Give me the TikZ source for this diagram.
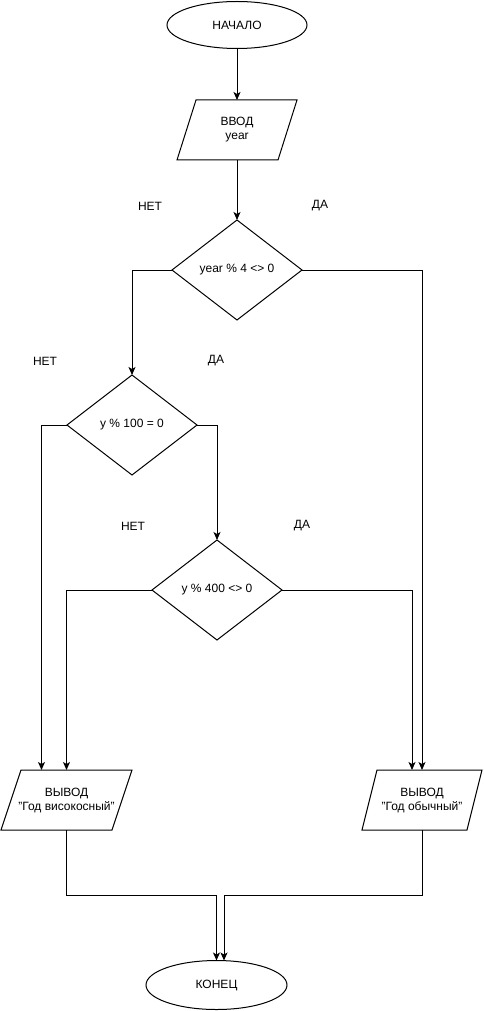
\documentclass[tikz,border=0pt]{standalone}
\usepackage{fontspec}
\setmainfont{Liberation Sans}
\usetikzlibrary{shapes.geometric,arrows.meta,calc}
\begin{document}
\begin{tikzpicture}[x=1pt,y=-1pt,
  every node/.style={font=\fontsize{12}{14}\selectfont, text=black},
  line/.style={draw=black, line width=1pt},
  arrow/.style={line, -{Stealth[length=8pt,width=7pt,inset=2pt]}},
  term/.style={ellipse, draw=black, line width=1pt, inner sep=0pt, outer sep=0pt},
  decision/.style={diamond, draw=black, line width=1pt, minimum width=130pt, minimum height=100pt, inner sep=0pt, outer sep=0pt},
  iobody/.style={rectangle, draw=none, minimum height=60pt, inner sep=0pt, outer sep=0pt, align=center},
  lbl/.style={inner sep=0pt}
]
\useasboundingbox (0,0) rectangle (483,1011);

% parallelogram drawer: #1 name, #2 total width, #3 slant
\newcommand{\drawpara}[3]{%
  \draw[line] ($(#1.center)+({-#2/2+#3},-30)$) -- ($(#1.center)+({#2/2},-30)$)
    -- ($(#1.center)+({#2/2-#3},30)$) -- ($(#1.center)+({-#2/2},30)$) -- cycle;}

\node[term, minimum width=140pt, minimum height=47pt] (start) at (237,25) {НАЧАЛО};
\node[iobody, minimum width=101pt] (in) at (237,130) {ВВОД\\year};
\drawpara{in}{120}{19}
\node[decision] (d1) at (237,270) {year \% 4 <> 0};
\node[decision] (d2) at (132,425) {y \% 100 = 0};
\node[decision] (d3) at (217,590) {y \% 400 <> 0};
\node[iobody, minimum width=111pt] (out1) at (66.5,800) {ВЫВОД\\"Год високосный"};
\drawpara{out1}{131}{20}
\node[iobody, minimum width=105pt] (out2) at (422,800) {ВЫВОД\\"Год обычный"};
\drawpara{out2}{120}{15}
\node[term, minimum width=141pt, minimum height=49pt] (end) at (216.5,985) {КОНЕЦ};

% labels
\node[lbl] (l1n) at (150,206) {НЕТ};
\node[lbl] (l1y) at (320,206) {ДА};
\node[lbl] (l2n) at (45,361) {НЕТ};
\node[lbl] (l2y) at (216,361) {ДА};
\node[lbl] (l3n) at (133,526) {НЕТ};
\node[lbl] (l3y) at (302,526) {ДА};

% connectors
\draw[arrow] (start.south) -- ($(in.center)+(0,-30)$);
\draw[arrow] ($(in.center)+(0,30)$) -- (d1.north);
\draw[arrow] (d1.west) -| (d2.north);
\draw[arrow] (d1.east) -| ($(out2.center)+(0,-30)$);
\draw[arrow] (d2.west) -| ($(out1.center)+(-25,-30)$);
\draw[arrow] (d2.east) -| (d3.north);
\draw[arrow] (d3.west) -| ($(out1.center)+(0,-30)$);
\draw[arrow] (d3.east) -| ($(out2.center)+(-10,-30)$);
\coordinate (j1) at ($(end.north)+(0,-65)$);
\coordinate (j2) at ($(end.north)+(7.5,-65)$);
\draw[arrow] ($(out1.center)+(0,30)$) |- (j1) -- (end.north);
\draw[arrow] ($(out2.center)+(0,30)$) |- (j2) -- ($(end.north)+(7.5,0)$);
\end{tikzpicture}
\end{document}
